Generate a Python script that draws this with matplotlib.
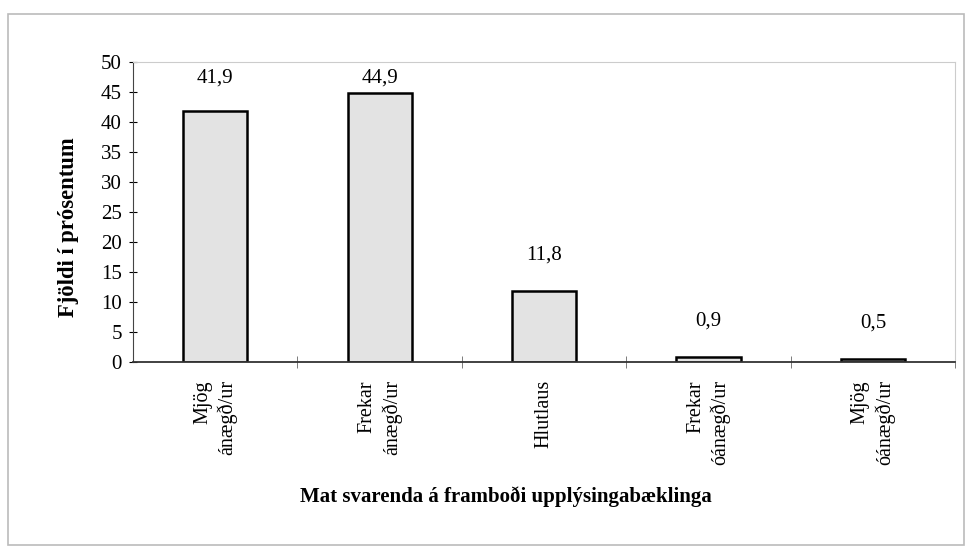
import numpy as np
import matplotlib
matplotlib.use("Agg")
import matplotlib.pyplot as plt
from matplotlib.patches import Rectangle

categories = ["Mjög\nánægð/ur", "Frekar\nánægð/ur", "Hlutlaus",
              "Frekar\nóánægð/ur", "Mjög\nóánægð/ur"]
values = [41.9, 44.9, 11.8, 0.9, 0.5]
value_labels = ["41,9", "44,9", "11,8", "0,9", "0,5"]
yticks = [0, 5, 10, 15, 20, 25, 30, 35, 40, 45, 50]

plt.rcParams['font.family'] = ['Liberation Serif', 'DejaVu Serif']

fig = plt.figure(figsize=(9.66, 5.47), dpi=100)
ax = fig.add_axes([0.1377, 0.338, 0.851, 0.5485])

# outer frame of the chart
fig.patches.append(Rectangle((0.008, 0.004), 0.99, 0.97, transform=fig.transFigure,
                             fill=False, edgecolor='#bbbbbb', linewidth=1.2))

x = np.arange(len(categories))
ax.bar(x, values, width=0.39, color='#e3e3e3', edgecolor='black', linewidth=1.8)

# labels sit above the bars but stay inside the plot area
for xi, v, lab in zip(x, values, value_labels):
    ly = min(max(v + 6, 6.2), 47.3)
    ax.text(xi, ly, lab, ha='center', va='center', fontsize=15)

ax.set_xlim(-0.5, 4.5)
ax.set_ylim(0, 50)
ax.set_yticks(yticks)
ax.tick_params(axis='y', direction='inout', length=6, labelsize=15, pad=5)

ax.set_xticks(x)
ax.set_xticklabels(categories, rotation=90, ha='center', va='top',
                   multialignment='right', fontsize=14.5, linespacing=1.3)
ax.tick_params(axis='x', length=0, pad=13)
ax.set_xticks(np.arange(0.5, 5, 1), minor=True)
ax.tick_params(axis='x', which='minor', direction='inout', length=8, color='#666666')

for s in ['top', 'right']:
    ax.spines[s].set_color('#cccccc')
ax.spines['left'].set_color('#444444')
ax.spines['bottom'].set_color('#333333')
ax.spines['bottom'].set_linewidth(1.3)

fig.text(0.071, 0.585, "Fjöldi í prósentum", rotation=90, ha='center', va='center',
         fontsize=16.3, fontweight='bold')
fig.text(0.524, 0.093, "Mat svarenda á framboði upplýsingabæklinga", ha='center',
         va='center', fontsize=15, fontweight='bold')

fig.savefig("out.png", dpi=100)
